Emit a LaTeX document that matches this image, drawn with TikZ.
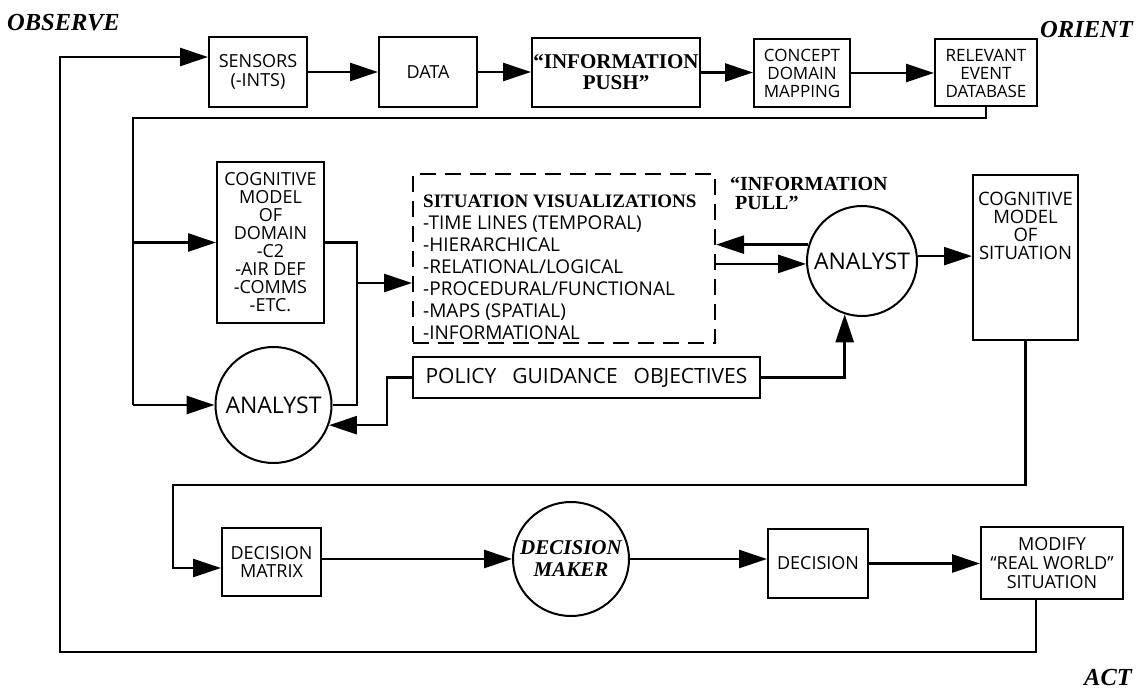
\documentclass[tikz,border=0pt]{standalone}
\usepackage{fontspec}
\setmainfont{Liberation Serif}
\newfontfamily\bx{Open Sans}
\usetikzlibrary{arrows.meta,shapes.geometric,calc}
\tikzset{
  box/.style={draw, line width=2pt, inner sep=0pt, align=center, font=\bx\fontsize{18}{19}\selectfont},
  circ/.style={draw, circle, line width=2pt, inner sep=0pt, font=\bx\fontsize{23}{23}\selectfont},
  arr/.style={line width=2.6pt, -{Triangle[length=28pt,width=18pt]}},
  conn/.style={line width=2.4pt},
  phase/.style={font=\fontsize{24.5}{25}\selectfont\bfseries\itshape, inner sep=0pt},
  lbl/.style={inner sep=0pt, align=center},
}
\begin{document}
\begin{tikzpicture}[x=1pt,y=-1pt]
\useasboundingbox (0,0) rectangle (1143,690);

% phase labels
\node[phase, anchor=base west] (observe) at (7,31) {OBSERVE};
\node[phase, anchor=base east] (orient) at (1133,38) {ORIENT};
\node[phase, anchor=base east] (act) at (1132,685) {ACT};

% top row
\node[box, minimum width=98pt, minimum height=70pt] (sens) at (258,72) {SENSORS\\(-INTS)};
\node[box, minimum width=98pt, minimum height=70pt] (data) at (428,72) {DATA};
\node[box, minimum width=168pt, minimum height=69pt, font=\fontsize{21}{21}\selectfont\bfseries] (push) at (616,72.5) {“INFORMATION\\PUSH”};
\node[box, minimum width=96pt, minimum height=68pt, font=\bx\fontsize{17}{18}\selectfont] (concept) at (802,73) {CONCEPT\\DOMAIN\\MAPPING};
\node[box, minimum width=102pt, minimum height=67pt, font=\bx\fontsize{17}{18}\selectfont] (relev) at (986,73) {RELEVANT\\EVENT\\DATABASE};

% middle
\node[box, minimum width=107pt, minimum height=161pt, font=\bx\fontsize{18}{18}\selectfont] (cogd) at (270.5,242.5) {COGNITIVE\\MODEL\\OF\\DOMAIN\\-C2\\-AIR DEF\\-COMMS\\-ETC.};
\node[circ, minimum size=116pt] (anal1) at (273.5,405) {ANALYST};
\node[draw, line width=2pt, dash pattern=on 16pt off 9pt, minimum width=302pt, minimum height=169pt, inner sep=0pt] (vis) at (564,258.5) {};
\node[anchor=north west, align=left, inner sep=0pt, font=\bx\fontsize{19}{22}\selectfont] (vistext) at (423,195)
  {{\rmfamily\bfseries\fontsize{19}{22}\selectfont SITUATION VISUALIZATIONS}\\
   -TIME LINES (TEMPORAL)\\
   -HIERARCHICAL\\
   -RELATIONAL/LOGICAL\\
   -PROCEDURAL/FUNCTIONAL\\
   -MAPS (SPATIAL)\\
   -INFORMATIONAL};
\node[box, minimum width=347pt, minimum height=41pt, font=\bx\fontsize{21}{21}\selectfont] (policy) at (586.5,377.5) {POLICY\hspace{16pt}GUIDANCE\hspace{16pt}OBJECTIVES};
\node[anchor=north west, align=left, inner sep=0pt, font=\fontsize{20}{18.5}\selectfont\bfseries] (pull) at (730,177) {“INFORMATION\\\hspace*{5pt}PULL”};
\node[circ, minimum size=110pt] (anal2) at (862,261) {ANALYST};
\node[draw, line width=2pt, minimum width=105pt, minimum height=165pt, inner sep=0pt] (cogs) at (1025.5,257.5) {};
\node[lbl, anchor=north, font=\bx\fontsize{18.5}{18}\selectfont] (cogstext) at (1025.5,192) {COGNITIVE\\MODEL\\OF\\SITUATION};

% bottom row
\node[box, minimum width=99pt, minimum height=68pt, font=\bx\fontsize{18}{18}\selectfont] (dmat) at (271.5,562) {DECISION\\MATRIX};
\node[draw, ellipse, line width=2pt, minimum width=116pt, minimum height=114pt, inner sep=0pt] (dmaker) at (571,559) {};
\node[lbl, font=\fontsize{21}{22}\selectfont\bfseries\itshape] (dmakertext) at (dmaker.center) {DECISION\\MAKER};
\node[box, minimum width=100pt, minimum height=69pt] (dec) at (818,563.5) {DECISION};
\node[box, minimum width=142pt, minimum height=72pt, font=\bx\fontsize{18}{19}\selectfont] (modify) at (1052,563) {MODIFY\\“REAL WORLD”\\SITUATION};

% coordinates for bends
\coordinate (oBR) at (1036,652);
\coordinate (oBL) at (60,652);
\coordinate (iTL) at (133,118);
\coordinate (iBL) at (133,405);
\coordinate (jB) at (357,405);
\coordinate (jM) at (357,283);
\coordinate (pA) at (387,377.5);
\coordinate (bTL) at (173,485);

% top chain
\draw[arr] (sens.east) -- (sens.east -| data.west);
\draw[arr] (data.east) -- (data.east -| push.west);
\draw[arr] (push.east) -- (push.east -| concept.west);
\draw[arr] (concept.east) -- (concept.east -| relev.west);

% outer loop (ACT -> OBSERVE)
\draw[arr] (modify.south -| oBR) -- (oBR) -- (oBL) |- ([yshift=15pt]sens.west);

% inner loop from relevant event database
\draw[conn] (relev.south) |- (iTL) -- (iBL);
\draw[arr] (iBL) -- (anal1.west);
\draw[arr] (iTL |- cogd.west) -- (cogd.west);

% domain model / analyst to visualizations
\draw[conn] (cogd.east) -| (jB) -- (anal1.east);
\draw[arr] (jM) -- (jM -| vis.west);

% policy connectors
\draw[arr] (policy.west) -- (pA) |- (anal1.-20);
\draw[arr] (policy.east) -| (anal2.-108);

% analyst 2 and visualizations
\draw[arr] (anal2.163) -- (anal2.163 -| vis.east);
\draw[arr] (anal2.183 -| vis.east) -- (anal2.183);
\draw[arr] (anal2.5) -- (anal2.5 -| cogs.west);

% situation model to decision matrix
\draw[arr] (cogs.south) |- (bTL) |- ([yshift=-6pt]dmat.west);

% bottom chain
\draw[arr] (dmat.east |- dmaker.west) -- (dmaker.west);
\draw[arr] (dmaker.east) -- (dmaker.east -| dec.west);
\draw[arr] (dec.east) -- (dec.east -| modify.west);
\end{tikzpicture}
\end{document}
